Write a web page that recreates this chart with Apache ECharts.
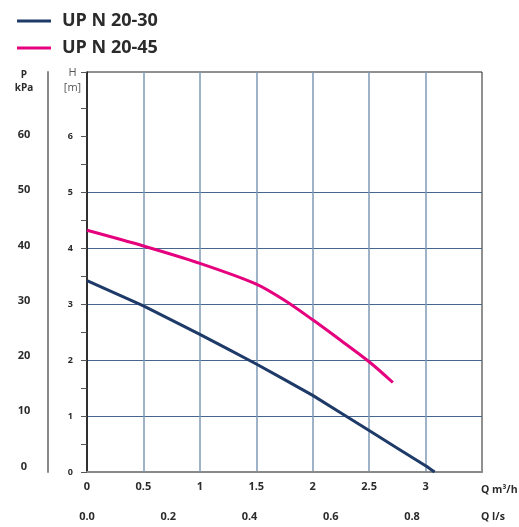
<!DOCTYPE html>
<html>
<head>
<meta charset="utf-8">
<script src="https://cdn.jsdelivr.net/npm/echarts@6/dist/echarts.min.js"></script>
<style>
html,body{margin:0;padding:0;background:#fff;}
#chart{width:519px;height:527px;}
</style>
</head>
<body>
<div id="chart"></div>
<script>
// ---- data ----
var seriesNames = ['UP N 20-30', 'UP N 20-45'];
var qA = [0.0, 0.5, 1.0, 1.5, 2.0, 2.5, 3.0, 3.08];
var hA = [3.42, 2.97, 2.46, 1.93, 1.37, 0.74, 0.11, 0.0];
var qB = [0.0, 0.5, 1.0, 1.5, 1.75, 2.0, 2.25, 2.5, 2.71];
var hB = [4.32, 4.04, 3.73, 3.36, 3.07, 2.72, 2.35, 1.97, 1.60];
var hGridLevels = [0, 1, 2, 3, 4, 5, 6];
var hTickValues = [0, 0.5, 1, 1.5, 2, 2.5, 3, 3.5, 4, 4.5, 5, 5.5, 6, 6.5, 7.15];
var hLabelValues = [0, 1, 2, 3, 4, 5, 6];
var kPaLabelValues = [0, 10, 20, 30, 40, 50, 60];
var lsLabelValues = [0, 0.2, 0.4, 0.6, 0.8];

function pairs(xs, ys) { return xs.map(function (x, i) { return [x, ys[i]]; }); }

var FONT = '"Open Sans", "Noto Sans", sans-serif';
var chart = echarts.init(document.getElementById('chart'), null, {renderer: 'canvas'});
var qMax = 3.5;
var hMax = 7.15;

chart.setOption({
  animation: false,
  textStyle: {fontFamily: FONT},
  legend: {
    orient: 'vertical', left: 12, top: 6,
    itemWidth: 34, itemHeight: 3, itemGap: 7,
    icon: 'rect',
    textStyle: {fontSize: 18, fontWeight: 'bold', color: '#2b2b2b', fontFamily: FONT, lineHeight: 20, padding: [0, 0, 0, 6]},
    data: seriesNames
  },
  grid: {left: 87, top: 72, right: 37, bottom: 55, show: true, borderColor: '#222', borderWidth: 1, containLabel: false, outerBoundsMode: 'none'},
  xAxis: [
    {
      type: 'value', min: 0, max: qMax, interval: 0.5,
      name: 'Q m³/h', nameLocation: 'end', nameGap: -1, nameMoveOverlap: false,
      nameTextStyle: {fontSize: 10.5, fontWeight: 'bold', color: '#2b2b2b', align: 'left', verticalAlign: 'top', padding: [13, 0, 0, 0], fontFamily: FONT},
      axisLine: {show: true, lineStyle: {color: '#444', width: 1.5}},
      axisTick: {show: false},
      axisLabel: {margin: 9, fontSize: 11, fontWeight: 'bold', color: '#2b2b2b', fontFamily: FONT,
        formatter: function (v) { return v >= qMax ? '' : String(v); }},
      splitLine: {show: true, showMinLine: false, showMaxLine: false, lineStyle: {color: '#7f9ab6', width: 1.5}}
    },
    {
      type: 'value', min: 0, max: qMax / 3.6, position: 'bottom', offset: 28,
      name: 'Q l/s', nameLocation: 'end', nameGap: -1, nameMoveOverlap: false,
      nameTextStyle: {fontSize: 10.5, fontWeight: 'bold', color: '#2b2b2b', align: 'left', verticalAlign: 'top', padding: [40, 0, 0, 0], fontFamily: FONT},
      axisLine: {show: true, lineStyle: {color: '#8a8a8a', width: 2}},
      axisTick: {show: false},
      axisLabel: {customValues: lsLabelValues, margin: 11, fontSize: 11, fontWeight: 'bold', color: '#2b2b2b', fontFamily: FONT,
        formatter: function (v) { return v.toFixed(1); }},
      splitLine: {show: false}
    }
  ],
  yAxis: [
    {
      type: 'value', min: 0, max: hMax, position: 'left',
      axisLine: {show: true, lineStyle: {color: '#111', width: 1.5}},
      axisTick: {show: false, customValues: hGridLevels},
      axisLabel: {show: false},
      splitLine: {show: true, showMinLine: false, showMaxLine: false, lineStyle: {color: '#46668e', width: 1.2}}
    },
    {
      type: 'value', min: 0, max: hMax, position: 'left', offset: 5,
      name: 'H\n[m]', nameLocation: 'end', nameGap: 7, nameMoveOverlap: false,
      nameTextStyle: {fontSize: 11, color: '#555', lineHeight: 15, align: 'center', verticalAlign: 'top', padding: [0, 29, 0, 0], fontFamily: FONT},
      axisLine: {show: false},
      axisTick: {show: true, customValues: hTickValues, length: 6, lineStyle: {color: '#555', width: 1}},
      axisLabel: {customValues: hLabelValues, margin: 9, fontSize: 9, fontWeight: 'bold', color: '#2b2b2b', fontFamily: FONT},
      splitLine: {show: false}
    },
    {
      type: 'value', min: -1, max: 71.4, position: 'left', offset: 39,
      name: 'P\nkPa', nameLocation: 'end', nameGap: 3, nameMoveOverlap: false,
      nameTextStyle: {fontSize: 10, fontWeight: 'bold', color: '#2b2b2b', lineHeight: 13, align: 'center', verticalAlign: 'top', padding: [0, 48, 0, 0], fontFamily: FONT},
      axisLine: {show: true, lineStyle: {color: '#8a8a8a', width: 2}},
      axisTick: {show: false},
      axisLabel: {customValues: kPaLabelValues, margin: 24, align: 'center', fontSize: 11, fontWeight: 'bold', color: '#2b2b2b', fontFamily: FONT},
      splitLine: {show: false}
    }
  ],
  series: [
    {
      name: seriesNames[0], type: 'line', xAxisIndex: 0, yAxisIndex: 0,
      data: pairs(qA, hA), symbol: 'none', smooth: 0.1,
      lineStyle: {color: '#1e3a68', width: 3}, itemStyle: {color: '#1e3a68'}
    },
    {
      name: seriesNames[1], type: 'line', xAxisIndex: 0, yAxisIndex: 0,
      data: pairs(qB, hB), symbol: 'none', smooth: 0.3,
      lineStyle: {color: '#e5007d', width: 3}, itemStyle: {color: '#e5007d'}
    }
  ]
});
</script>
</body>
</html>
